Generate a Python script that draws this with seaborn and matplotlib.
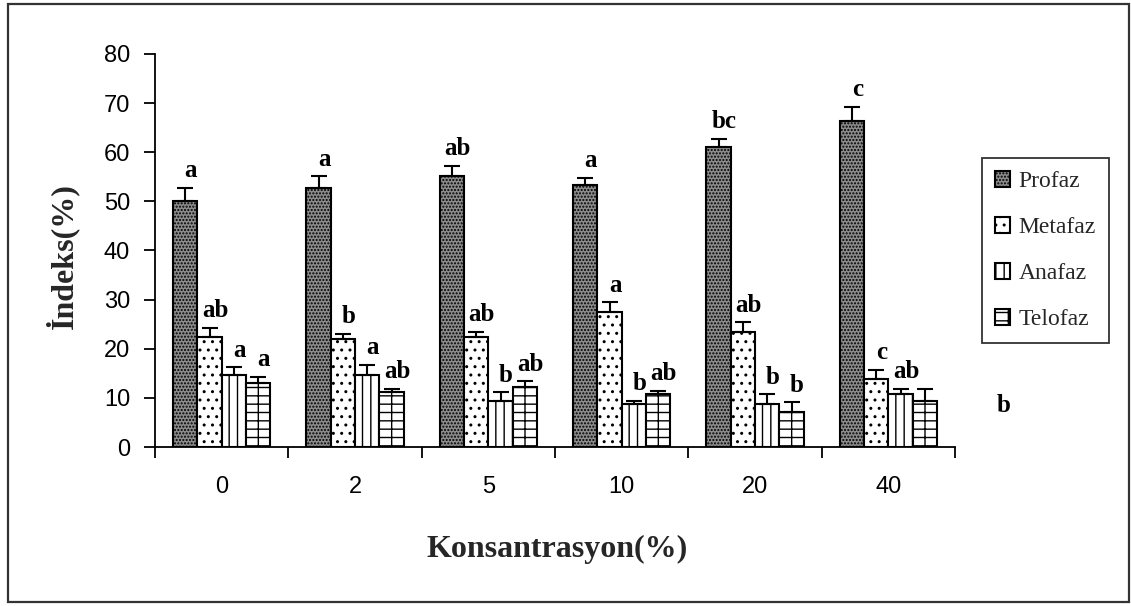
import numpy as np
import pandas as pd
import matplotlib
matplotlib.use("Agg")
import matplotlib.pyplot as plt
from matplotlib.patches import Rectangle
import seaborn as sns

# ---- data ----
concentrations = ["0", "2", "5", "10", "20", "40"]
series = ["Profaz", "Metafaz", "Anafaz", "Telofaz"]
profaz = [50.0, 52.8, 55.2, 53.4, 61.0, 66.4]
metafaz = [22.3, 21.9, 22.3, 27.5, 23.4, 13.8]
anafaz = [14.7, 14.7, 9.4, 8.7, 8.7, 10.7]
telofaz = [13.1, 11.1, 12.3, 10.7, 7.1, 9.4]
profaz_err = [2.8, 2.3, 2.0, 1.4, 1.7, 2.8]
metafaz_err = [2.0, 1.2, 1.1, 2.0, 2.0, 1.9]
anafaz_err = [1.5, 2.0, 1.7, 0.7, 2.0, 1.1]
telofaz_err = [1.2, 0.7, 1.1, 0.7, 2.0, 2.4]
profaz_lbl = ["a", "a", "ab", "a", "bc", "c"]
metafaz_lbl = ["ab", "b", "ab", "a", "ab", "c"]
anafaz_lbl = ["a", "a", "b", "b", "b", "ab"]
telofaz_lbl = ["a", "ab", "ab", "ab", "b", "b"]
y_ticks = [0, 10, 20, 30, 40, 50, 60, 70, 80]

values = [profaz, metafaz, anafaz, telofaz]
errors = [profaz_err, metafaz_err, anafaz_err, telofaz_err]
letters = [profaz_lbl, metafaz_lbl, anafaz_lbl, telofaz_lbl]

df = pd.DataFrame({
    "Konsantrasyon": concentrations * len(series),
    "Faz": [s for s in series for _ in concentrations],
    "Deger": [v for vals in values for v in vals],
})

sns.set_theme(style="white")
plt.rcParams["hatch.linewidth"] = 1.0
plt.rcParams["hatch.color"] = "black"

fig = plt.figure(figsize=(11.31, 6.06), dpi=100)
ax = fig.add_axes([155 / 1131, 1 - 447 / 606, 800 / 1131, 393 / 606])

styles = {
    "Profaz": ("#8c8c8c", "....."),
    "Metafaz": ("white", ".."),
    "Anafaz": ("white", "||"),
    "Telofaz": ("white", "+-"),
}
palette = {s: styles[s][0] for s in series}

sns.barplot(data=df, x="Konsantrasyon", y="Deger", hue="Faz",
            order=concentrations, hue_order=series, palette=palette,
            errorbar=None, width=0.73, gap=0, saturation=1,
            edgecolor="black", linewidth=1.5, legend=False, ax=ax)

containers = ax.containers[:len(series)]
for s, cont, errs, lbls in zip(series, containers, errors, letters):
    xs, ys = [], []
    for p in cont.patches:
        p.set_facecolor(styles[s][0])
        p.set_hatch(styles[s][1])
        p.set_edgecolor("black")
        xs.append(p.get_x() + p.get_width() / 2)
        ys.append(p.get_height())
    xs = np.array(xs)
    ys = np.array(ys)
    errs = np.array(errs)
    ax.errorbar(xs, ys, yerr=[np.zeros_like(errs), errs], fmt="none",
                ecolor="black", elinewidth=1.5, capsize=6, capthick=1.5, zorder=3)
    for i, (x, y, e, l) in enumerate(zip(xs, ys, errs, lbls)):
        off = (4, 4)
        if s == "Telofaz" and i == len(concentrations) - 1:
            off = (57, -20)
        ax.annotate(l, (x, y + e), xytext=off, textcoords="offset points",
                    ha="center", va="bottom", fontsize=18, fontweight="bold",
                    family="Liberation Serif", color="black")

ax.set_xlim(-0.5, 5.5)
ax.set_ylim(0, 80)
ax.set_yticks(y_ticks)
ax.set_yticklabels([str(t) for t in y_ticks], family="Liberation Sans", fontsize=17)
ax.set_xticks(range(len(concentrations)))
ax.set_xticklabels(concentrations, family="Liberation Sans", fontsize=17)
ax.set_xticks(np.arange(-0.5, 6.0, 1.0), minor=True)
ax.tick_params(axis="x", which="major", length=0, pad=21, colors="black")
ax.tick_params(axis="x", which="minor", length=8, width=1.3, direction="out", color="black")
ax.tick_params(axis="y", which="major", length=8, width=1.3, direction="out", pad=10, colors="black")
ax.xaxis.set_ticks_position("bottom")
ax.yaxis.set_ticks_position("left")

for side in ["top", "right"]:
    ax.spines[side].set_visible(False)
for side in ["left", "bottom"]:
    ax.spines[side].set_color("black")
    ax.spines[side].set_linewidth(1.3)
ax.grid(False)

ax.set_xlabel("Konsantrasyon(%)", family="Liberation Serif", fontweight="bold", fontsize=23)
ax.set_ylabel("İndeks(%)", family="Liberation Serif", fontweight="bold", fontsize=23)
ax.xaxis.set_label_coords((557 - 155) / 800, (447 - 549) / 393)
ax.xaxis.label.set_va("center")
ax.yaxis.set_label_coords((62 - 155) / 800, (447 - 256) / 393)
ax.yaxis.label.set_va("center")

handles = [c.patches[0] for c in containers]
leg = ax.legend(handles, series, loc="upper left",
                bbox_to_anchor=(982 / 1131, 1 - 158 / 606),
                bbox_transform=fig.transFigure,
                prop={"family": "Liberation Serif", "size": 17},
                frameon=True, fancybox=False, shadow=False,
                handlelength=0.65, handleheight=0.65, handletextpad=0.35,
                labelspacing=1.05, borderpad=0.55, borderaxespad=0)
leg.get_frame().set_edgecolor("black")
leg.get_frame().set_linewidth(1.3)

fig.patches.append(Rectangle((8 / 1131, 1 - 602 / 606), 1121 / 1131, 598 / 606,
                             transform=fig.transFigure, fill=False,
                             edgecolor="#333333", linewidth=1.6))

fig.savefig("out.png", dpi=100)
